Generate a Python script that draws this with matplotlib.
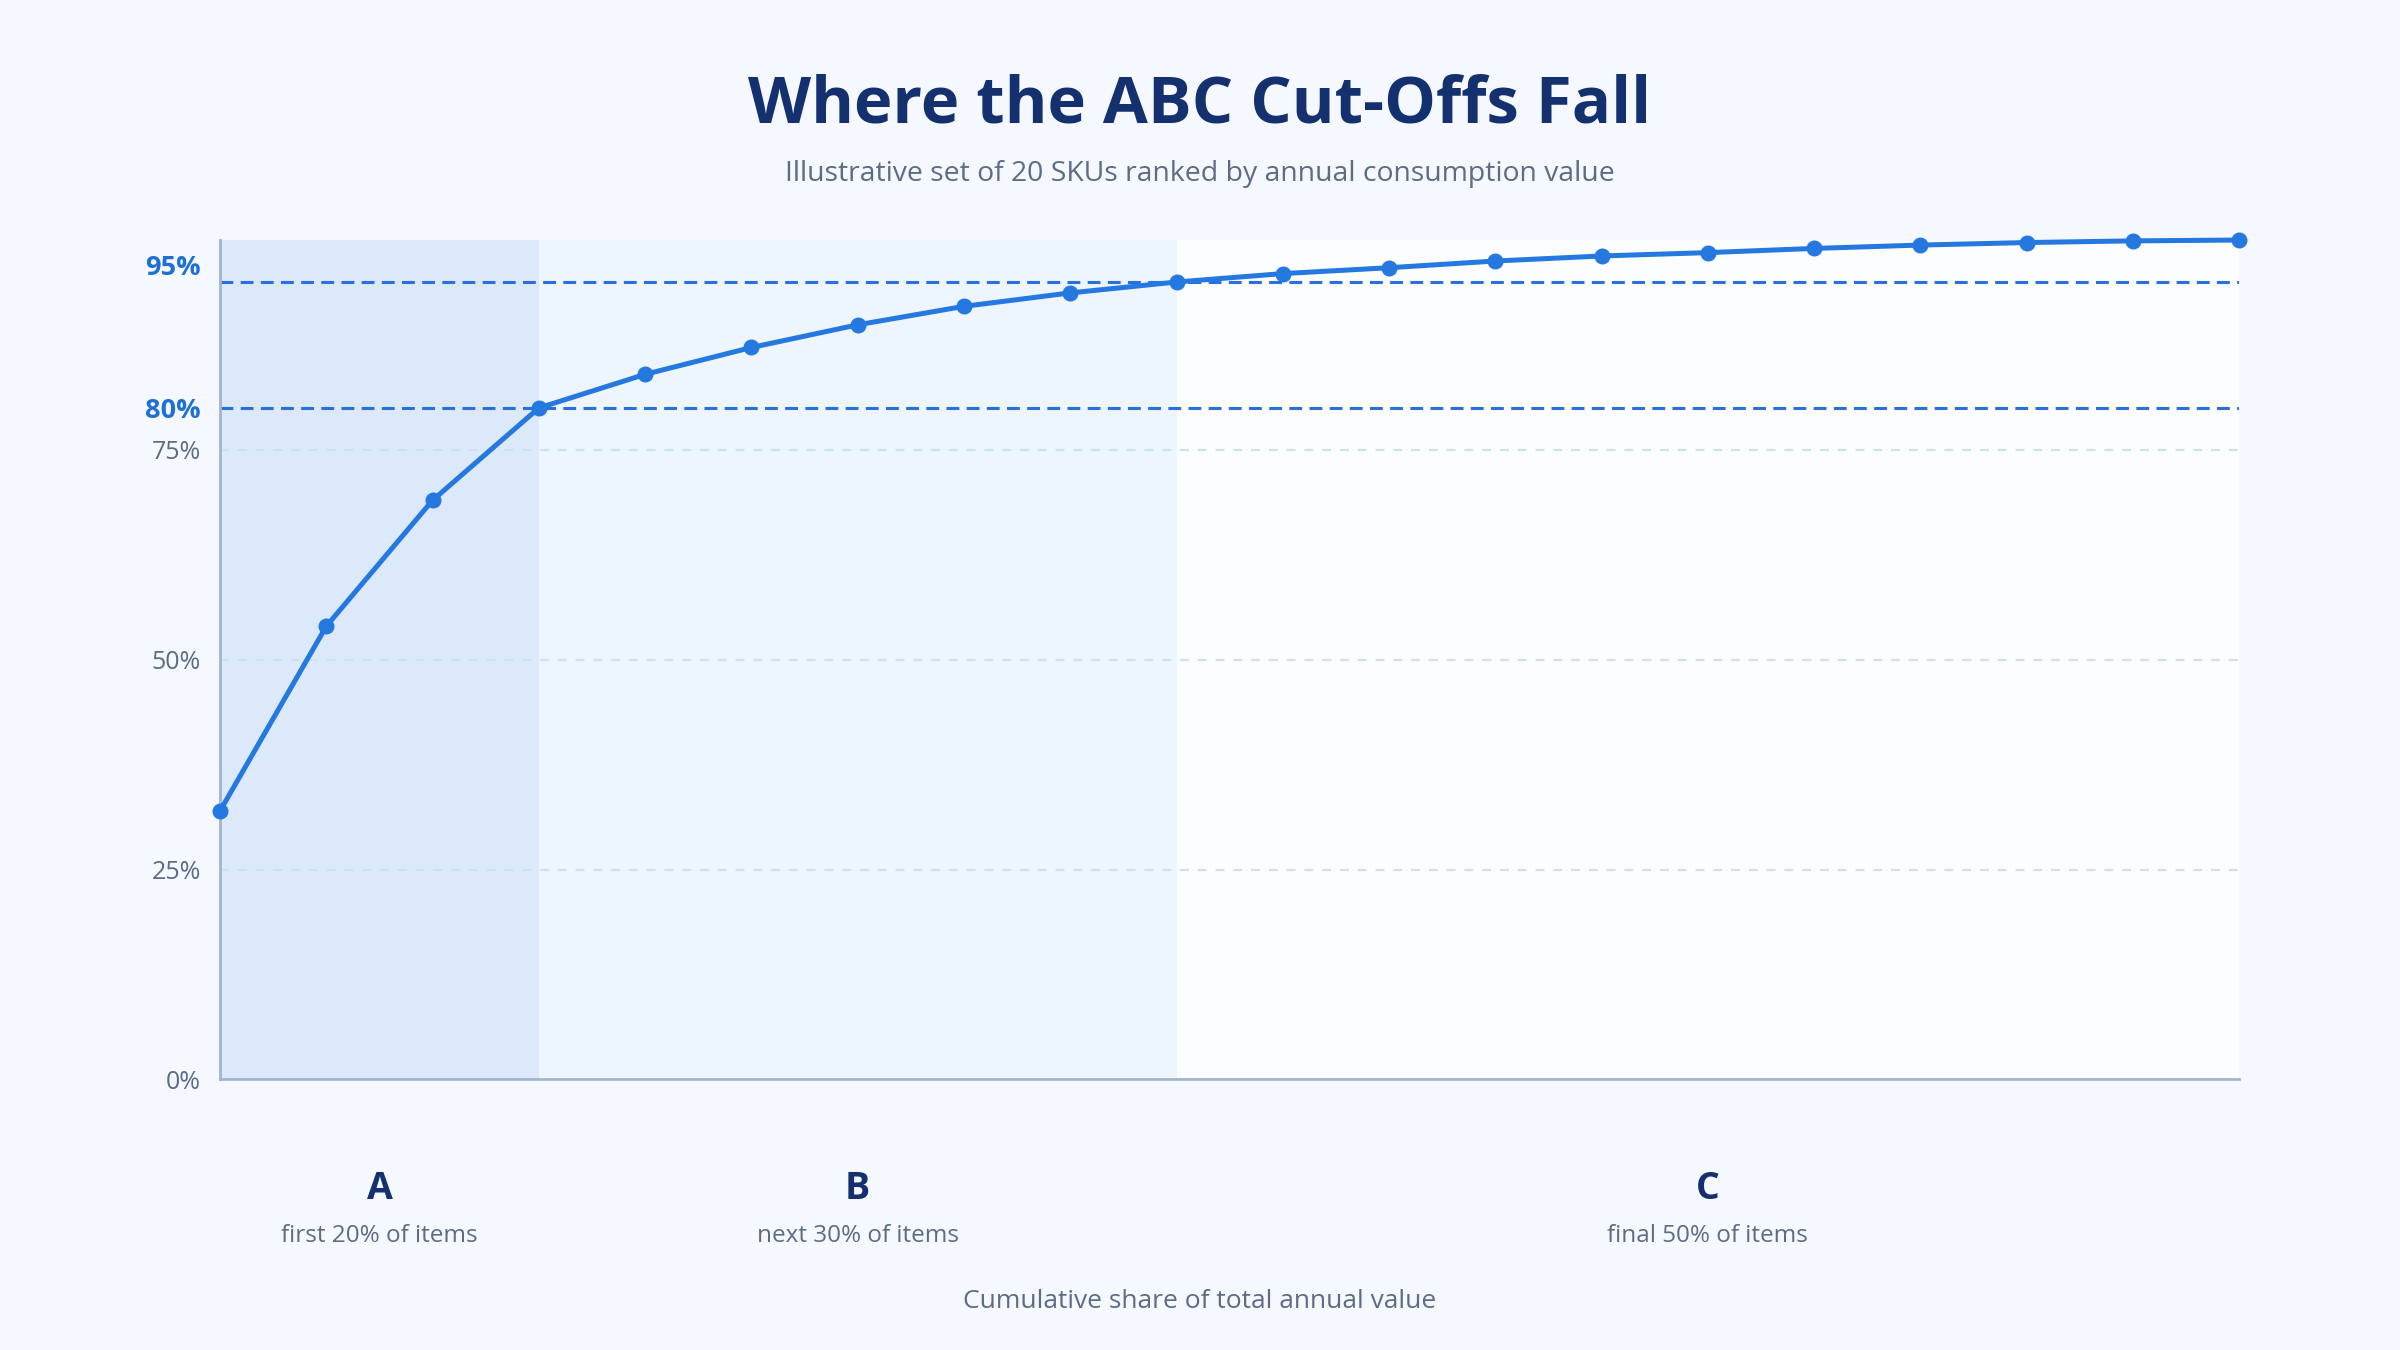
import matplotlib.pyplot as plt
import matplotlib.transforms as mtransforms
from matplotlib.ticker import FixedLocator

# --- data ---
rank = list(range(1, 21))
cum_share = [32.0, 54.0, 69.0, 80.0, 84.0, 87.2, 89.9, 92.1, 93.7, 95.0,
             96.0, 96.7, 97.5, 98.1, 98.5, 99.0, 99.4, 99.7, 99.9, 100.0]
class_names = ['A', 'B', 'C']
class_bounds = [(1, 4), (4, 10), (10, 20)]
class_notes = ['first 20% of items', 'next 30% of items', 'final 50% of items']
cutoffs = [80, 95]
grid_ticks = [0, 25, 50, 75]

FONT = ['Open Sans', 'DejaVu Sans']
plt.rcParams['font.family'] = FONT

fig = plt.figure(figsize=(24, 13.5), dpi=100, facecolor='#f5f9ff')
ax = fig.add_axes([0.0917, 0.2004, 0.8413, 0.6218])
ax.set_facecolor('#fbfdff')

# shaded class bands (A and B)
band_colors = ['#dce9fb', '#edf5fe', None]
for (x0, x1), c in zip(class_bounds, band_colors):
    if c:
        ax.axvspan(x0, x1, color=c, zorder=0, lw=0)

# light grid
for t in grid_ticks[1:]:
    ax.axhline(t, color='#cde2ef', lw=1.6, dashes=(4, 4), zorder=1)

# cut-off lines
for t in cutoffs:
    ax.axhline(t, color='#2a6fdb', lw=2.2, dashes=(4.2, 2.4), zorder=2)

# cumulative curve
ax.plot(rank, cum_share, color='#2478e0', lw=3.6, marker='o', markersize=10.5,
        zorder=4, clip_on=False, solid_capstyle='round')

ax.set_xlim(1, 20)
ax.set_ylim(0, 100)

ax.yaxis.set_major_locator(FixedLocator(grid_ticks + cutoffs))
ax.set_yticklabels([f'{t}%' for t in grid_ticks + cutoffs])
ax.tick_params(axis='y', length=0, pad=14, labelsize=18, labelcolor='#5d6b85')
for lab, t in zip(ax.get_yticklabels(), grid_ticks + cutoffs):
    if t in cutoffs:
        lab.set_color('#1f6fd6')
        lab.set_fontweight('bold')
        lab.set_fontsize(19.5)
    if t == 95:
        # nudge the top label up, clear of the curve's end
        lab.set_transform(lab.get_transform() +
                          mtransforms.ScaledTranslation(0, 12 / 72, fig.dpi_scale_trans))
ax.set_xticks([])

for s in ['top', 'right']:
    ax.spines[s].set_visible(False)
for s in ['left', 'bottom']:
    ax.spines[s].set_color('#a3b4cc')
    ax.spines[s].set_linewidth(2)

# class labels under the axis
for name, (x0, x1), note in zip(class_names, class_bounds, class_notes):
    xc = (x0 + x1) / 2
    ax.text(xc, -13.1, name, ha='center', va='center', fontsize=27,
            fontweight='bold', color='#14306e', clip_on=False)
    ax.text(xc, -18.6, note, ha='center', va='center', fontsize=17.5,
            color='#5d6b85', clip_on=False)

fig.text(0.5, 1 - 106 / 1350, 'Where the ABC Cut-Offs Fall', ha='center', va='center',
         fontsize=47, fontweight='bold', color='#14306e')
fig.text(0.5, 1 - 174 / 1350, 'Illustrative set of 20 SKUs ranked by annual consumption value',
         ha='center', va='center', fontsize=20.4, color='#5d6b85')
fig.text(0.5, 1 - 1301 / 1350, 'Cumulative share of total annual value',
         ha='center', va='center', fontsize=19, color='#5d6b85')

fig.savefig('out.png', dpi=100, facecolor=fig.get_facecolor())
